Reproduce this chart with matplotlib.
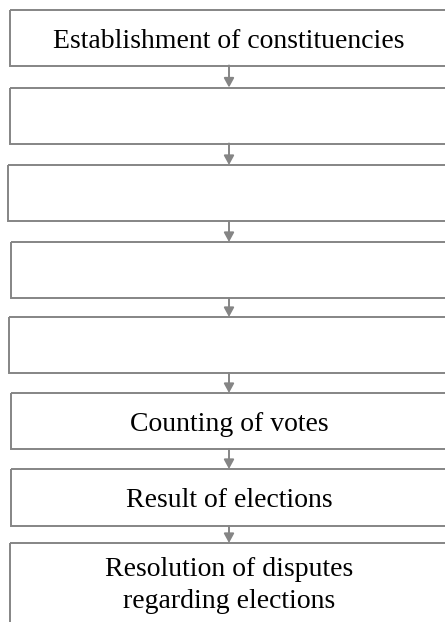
import matplotlib
matplotlib.use("Agg")
import matplotlib.pyplot as plt
from matplotlib.patches import Rectangle

# flowchart steps (empty strings are blank boxes in the original)
labels = [
    "Establishment of constituencies",
    "",
    "",
    "",
    "",
    "Counting of votes",
    "Result of elections",
    "Resolution of disputes\nregarding elections",
]
# layout in pixels: top edge, left edge, height of each box
box_top = [9.5, 87.5, 165, 242, 317, 393, 469, 543]
box_left = [9.5, 9.5, 7.5, 10.5, 8.5, 10.5, 10.5, 10]
box_height = [56, 56, 56, 56, 56, 56, 57, 90]

W, H = 445, 622
edge = "#858585"
arrow_x = 229

fig = plt.figure(figsize=(W / 100, H / 100), dpi=100)
ax = fig.add_axes([0, 0, 1, 1])
ax.set_xlim(0, W)
ax.set_ylim(H, 0)
ax.axis("off")

for i in range(len(labels)):
    left = box_left[i]
    right = 449
    rect = Rectangle((left, box_top[i]), right - left, box_height[i],
                     fill=False, edgecolor=edge, linewidth=1.4, clip_on=False)
    ax.add_patch(rect)
    lines = labels[i].split("\n") if labels[i] else []
    first = 38 if len(lines) == 1 else 33
    for k, line in enumerate(lines):
        ax.text(arrow_x, box_top[i] + first + 32.5 * k, line,
                ha="center", va="baseline",
                family="Liberation Serif", fontsize=20, color="black")

# arrows between boxes
for i in range(len(labels) - 1):
    y0 = box_top[i] + box_height[i]
    y1 = box_top[i + 1]
    ax.annotate("", xy=(arrow_x, y1), xytext=(arrow_x, y0),
                arrowprops=dict(arrowstyle="-|>,head_length=0.55,head_width=0.3",
                                color=edge, lw=1.4, shrinkA=0, shrinkB=0))

fig.savefig("out.png", dpi=100)
